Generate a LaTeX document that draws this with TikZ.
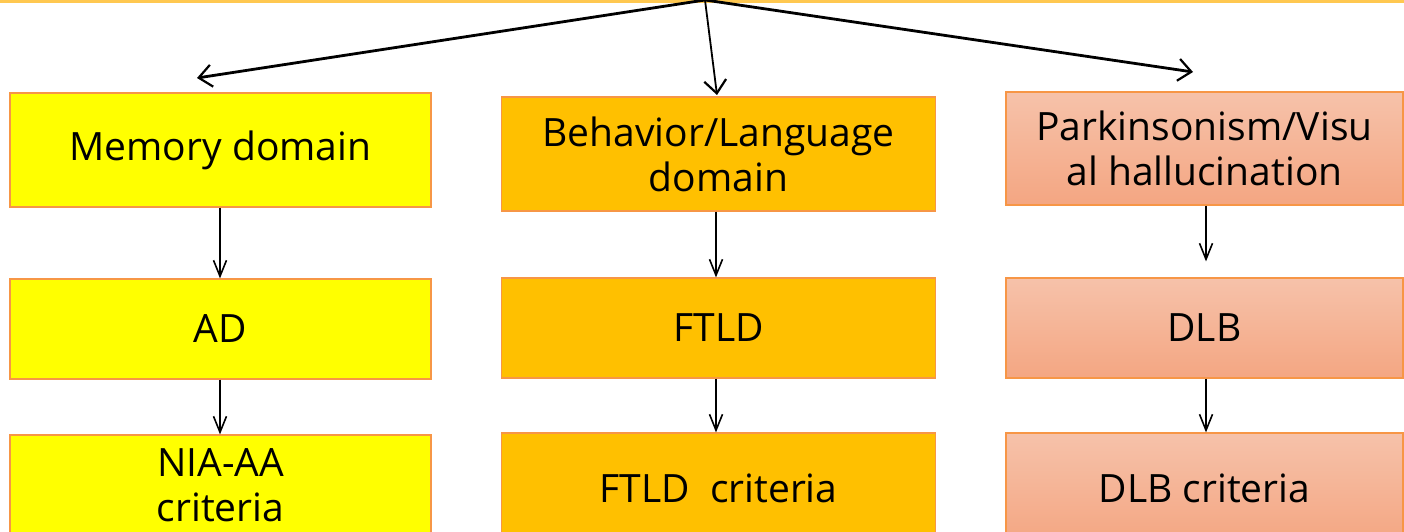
\documentclass[tikz,border=0pt]{standalone}
\usepackage{fontspec}
\setmainfont{Open Sans}
\usetikzlibrary{arrows.meta}

\definecolor{memfill}{RGB}{255,255,0}
\definecolor{behfill}{RGB}{255,192,0}
\definecolor{parktop}{RGB}{246,194,170}
\definecolor{parkbot}{RGB}{244,166,130}
\definecolor{boxline}{RGB}{247,150,70}
\definecolor{topline}{RGB}{255,200,80}

\tikzset{
  box/.style={draw=boxline, line width=1.2pt, align=center, inner sep=0pt,
    font=\fontsize{39}{45}\selectfont},
  membox/.style={box, fill=memfill, minimum width=421pt},
  behbox/.style={box, fill=behfill, minimum width=434pt},
  parkbox/.style={box, top color=parktop, bottom color=parkbot, minimum width=397pt},
  split/.style={line width=2.8pt, -{Straight Barb[length=13pt, width=22pt, line width=2.2pt]}},
  down/.style={line width=1.8pt, -{Straight Barb[length=16pt, width=13pt, line width=1.6pt]}},
}

\begin{document}
\begin{tikzpicture}[x=1pt, y=-1pt]
  \useasboundingbox (0,0) rectangle (1404,531);
  \clip (0,0) rectangle (1404,531);
  \draw [topline, line width=3pt] (0,1.5) -- (1404,1.5);

  % top row
  \node [membox, minimum height=114pt] at (220.5,150) (mem) {Memory domain};
  \node [behbox, minimum height=114pt] at (718.5,154) (beh) {Behavior/Language\\domain};
  \node [parkbox, minimum height=113pt] at (1204.5,148.5) (park) {Parkinsonism/Visu\\al hallucination};

  % diseases
  \node [membox, minimum height=100pt] at (220.5,329) (ad) {AD};
  \node [behbox, minimum height=100pt] at (718.5,328) (ftld) {FTLD};
  \node [parkbox, minimum height=100pt] at (1204.5,328) (dlb) {DLB};

  % criteria
  \node [membox, minimum height=100pt] at (220.5,485) (nia) {NIA-AA\\criteria};
  \node [behbox, minimum height=110pt] at (718.5,488) (ftldc) {FTLD\ \ criteria};
  \node [parkbox, minimum height=110pt] at (1204.5,488) (dlbc) {DLB criteria};

  \coordinate (apex) at (705,0);
  \coordinate (memtip) at (197,78);
  \coordinate (behtip) at (717,95);
  \coordinate (parktip) at (1193,72);
  \draw [split] (apex) -- (memtip);
  \draw [split, line width=1.8pt] (apex) -- (behtip);
  \draw [split] (apex) -- (parktip);

  \draw [down] (mem.south -| 220,0) -- (ad.north -| 220,0);
  \draw [down] (ad.south -| 220,0) -- (nia.north -| 220,0);
  \draw [down] (beh.south -| 716,0) -- (ftld.north -| 716,0);
  \draw [down] (ftld.south -| 716,0) -- (ftldc.north -| 716,0);
  \draw [down, shorten >=16pt] (park.south -| 1206,0) -- (dlb.north -| 1206,0);
  \draw [down] (dlb.south -| 1206,0) -- (dlbc.north -| 1206,0);
\end{tikzpicture}
\end{document}
